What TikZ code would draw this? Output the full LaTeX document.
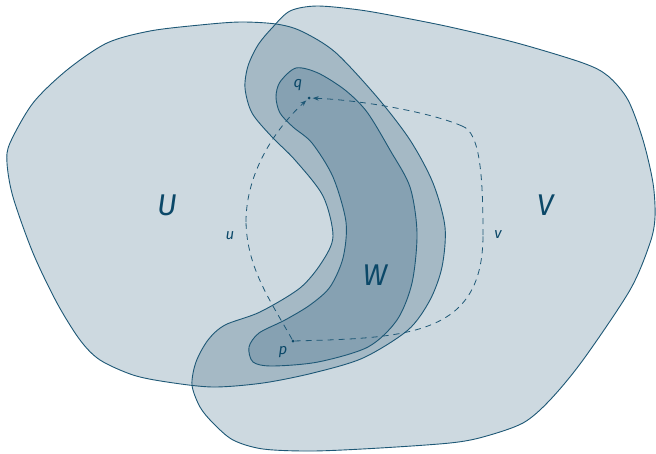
\documentclass[tikz,border=0pt]{standalone}
\usepackage{fontspec}
\setmainfont{Fira Sans}
\usetikzlibrary{arrows.meta}
\definecolor{lightfill}{HTML}{CDD9E0}
\definecolor{ringfill}{HTML}{A5B9C5}
\definecolor{wfill}{HTML}{86A1B2}
\definecolor{linecol}{HTML}{1E5876}
\definecolor{textcol}{HTML}{0B4868}
\def\Upath{plot[smooth cycle, tension=0.5] coordinates {(200,25) (240,22) (276,24) (301,31) (335,52) (377,97) (410,140) (433,183) (445,227) (442,267) (430,300) (408,330) (363,358) (313,373) (263,383) (213,387) (167,382) (133,375) (100,360) (80,340) (57,303) (33,253) (13,197) (7,163) (10,143) (33,103) (67,70) (107,43) (150,31)}}
\def\Vpath{plot[smooth cycle, tension=0.5] coordinates {(272,28) (290,11) (317,6) (360,10) (400,17) (450,27) (517,43) (583,63) (608,76) (628,100) (643,140) (653,183) (655,217) (650,243) (630,290) (583,360) (550,400) (523,423) (483,437) (450,443) (380,448) (313,451) (263,449) (233,440) (213,423) (200,407) (192,385) (196,362) (208,340) (225,325) (260,312) (300,288) (322,262) (333,236) (323,196) (295,160) (272,137) (252,113) (245,88) (248,66) (258,45)}}
\def\Wpath{plot[smooth cycle, tension=0.5] coordinates {(296,68) (280,82) (276,97) (280,113) (293,127) (312,143) (333,177) (346,222) (343,258) (330,287) (310,305) (285,320) (259,333) (249,347) (253,362) (272,366) (318,362) (368,347) (397,320) (412,283) (417,233) (410,187) (390,150) (367,112) (345,90) (318,73)}}
\tikzset{
  outline/.style={draw=linecol, line width=0.9pt},
  bigl/.style={text=textcol, font=\fontsize{30}{30}\selectfont\itshape, inner sep=0pt},
  smalll/.style={text=textcol, font=\fontsize{15}{15}\selectfont\itshape, inner sep=0pt},
  dotnode/.style={circle, fill=textcol, inner sep=0pt, minimum size=3pt},
  pathline/.style={draw=linecol, line width=0.8pt, dash pattern=on 6pt off 5pt, shorten >=2pt, -{Stealth[length=6pt,width=4.5pt]}},
  pathline2/.style={draw=linecol, line width=0.8pt, dash pattern=on 6pt off 5pt}
}
\begin{document}
\begin{tikzpicture}[x=1pt, y=-1pt]
\useasboundingbox (0,0) rectangle (656,453);
\fill[white] (0,0) rectangle (656,453);
% fills
\fill[lightfill] \Upath;
\fill[lightfill] \Vpath;
\begin{scope}
  \clip \Vpath;
  \fill[ringfill] \Upath;
\end{scope}
\fill[wfill] \Wpath;
% outlines
\draw[outline] \Upath;
\draw[outline] \Vpath;
\draw[outline] \Wpath;
% points
\node[dotnode] (p) at (293,341) {};
\node[dotnode] (q) at (309,98) {};
\coordinate (u1) at (246,222);
\coordinate (v1) at (483,235);
\coordinate (v2) at (462,126);
% paths
\draw[pathline2] (p) .. controls (270,300) and (247,268) .. (u1);
\draw[pathline] (u1) .. controls (246,172) and (276,128) .. (q);
\draw[pathline2] (p) .. controls (410,338) and (483,335) .. (v1);
\draw[pathline2] (v1) .. controls (483,175) and (480,132) .. (v2);
\draw[pathline] (v2) .. controls (430,112) and (360,100) .. (q);
% labels
\node[bigl] (Ul) at (167,205) {U};
\node[bigl] (Vl) at (545,205) {V};
\node[bigl] (Wl) at (375,275) {W};
\node[smalll] (ul) at (230,236) {u};
\node[smalll] (vl) at (498,235) {v};
\node[smalll] (pl) at (283,352) {p};
\node[smalll] (ql) at (298,85) {q};
\end{tikzpicture}
\end{document}
